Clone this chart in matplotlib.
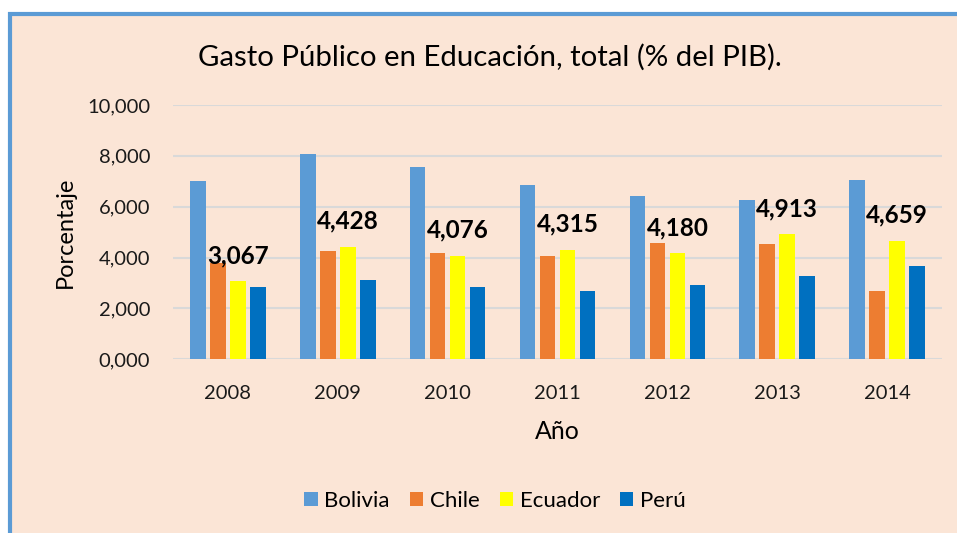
import numpy as np
import matplotlib.pyplot as plt
from matplotlib.patches import Rectangle
from matplotlib.lines import Line2D

# Data
years = ['2008', '2009', '2010', '2011', '2012', '2013', '2014']
countries = ['Bolivia', 'Chile', 'Ecuador', 'Perú']
bolivia = [7.03, 8.08, 7.58, 6.87, 6.43, 6.26, 7.05]
chile = [3.80, 4.24, 4.17, 4.07, 4.57, 4.55, 2.69]
ecuador = [3.067, 4.428, 4.076, 4.315, 4.180, 4.913, 4.659]
peru = [2.83, 3.12, 2.83, 2.68, 2.92, 3.28, 3.65]
yticks = [0, 2, 4, 6, 8, 10]

colors = ['#5B9BD5', '#ED7D31', '#FFFF00', '#0070C0']
bg = '#FBE5D6'

plt.rcParams['font.family'] = ['Lato', 'DejaVu Sans']

fig = plt.figure(figsize=(9.57, 5.33), dpi=100)
fig.patch.set_facecolor('white')

W, H = 957, 533
# chart area background and blue border (left and top)
fig.patches.append(Rectangle((10 / W, 0), 1, 1 - 14 / H, transform=fig.transFigure,
                             facecolor=bg, edgecolor='none', zorder=-5))
fig.lines.append(Line2D([10 / W, 10 / W], [0, 1 - 12 / H], transform=fig.transFigure,
                        color='#5B9BD5', linewidth=3, solid_capstyle='butt', zorder=-4))
fig.lines.append(Line2D([8 / W, 1.0], [1 - 14 / H, 1 - 14 / H], transform=fig.transFigure,
                        color='#5B9BD5', linewidth=3, solid_capstyle='butt', zorder=-4))

ax = fig.add_axes([173 / W, 1 - 359.3 / H, 769 / W, 254.3 / H])
ax.set_facecolor('none')

x = np.arange(len(years))
pitch = 0.182
width = 0.141
series = [bolivia, chile, ecuador, peru]
for i, (name, vals, c) in enumerate(zip(countries, series, colors)):
    ax.bar(x + (i - 1.5) * pitch, vals, width=width, color=c, label=name, zorder=3)

# data labels over the Ecuador bars
for xi, v in zip(x, ecuador):
    ax.annotate(f'{v:.3f}'.replace('.', ','), (xi + 0.5 * pitch, v),
                xytext=(0, 13), textcoords='offset points',
                ha='center', va='baseline', fontsize=17.5, fontweight='bold',
                color='black', zorder=4)

ax.set_xlim(-0.5, len(years) - 0.5)
ax.set_ylim(0, 10)
ax.set_yticks(yticks)
ax.set_yticklabels([f'{t:.3f}'.replace('.', ',') for t in yticks], fontsize=14.5)
ax.set_xticks(x)
ax.set_xticklabels(years, fontsize=14.5)
ax.tick_params(axis='both', length=0, colors='#1a1a1a')
ax.tick_params(axis='y', pad=16.5)
ax.tick_params(axis='x', pad=18.5)
ax.grid(axis='y', color='#D9D9D9', linewidth=1.5, zorder=0)
for s in ax.spines.values():
    s.set_visible(False)

ax.set_xlabel('Año', fontsize=18, labelpad=13)
ax.set_ylabel('Porcentaje', fontsize=17, labelpad=8)

fig.text(490 / W, 1 - 57 / H, 'Gasto Público en Educación, total (% del PIB).',
         ha='center', va='center', fontsize=21.2)

fig.legend(loc='center', bbox_to_anchor=(495 / W, 1 - 501 / H), ncol=4,
           frameon=False, fontsize=16, handlelength=0.6, handleheight=0.6,
           handletextpad=0.3, columnspacing=0.9)

fig.savefig('out.png', dpi=100, facecolor=fig.get_facecolor())
